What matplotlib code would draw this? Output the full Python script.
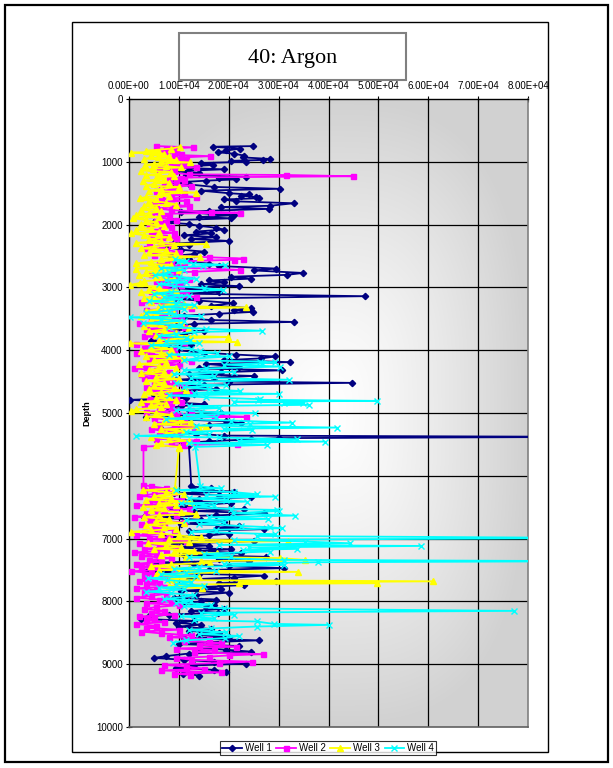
import numpy as np
import matplotlib
matplotlib.use("Agg")
import matplotlib.pyplot as plt
from matplotlib.patches import Rectangle

plt.rcParams["font.family"] = ["Liberation Sans", "DejaVu Sans"]

# ---------------------------------------------------------------- data
well1_depth = [
    750, 760, 790, 820, 850, 870, 900, 930, 955, 970, 985, 1000,
    1020, 1050, 1080, 1100, 1120, 1150, 1180, 1210, 1240, 1260, 1280, 1300,
    1330, 1360, 1400, 1430, 1460, 1500, 1520, 1540, 1560, 1580, 1600,
    1630, 1660, 1700, 1720, 1750, 1780, 1800, 1830, 1850, 1880, 1900, 1930, 1960, 1990,
    2020, 2050, 2080, 2110, 2140, 2170, 2200, 2230, 2260, 2300, 2330, 2360, 2400, 2430, 2470, 2500,
    2540, 2580, 2620, 2660, 2700, 2730, 2770, 2800, 2830, 2860, 2890, 2920, 2950, 2980,
    3010, 3040, 3070, 3100, 3140, 3180, 3210, 3250, 3290, 3330, 3360, 3390, 3420, 3450, 3480,
    3520, 3550, 3580, 3620, 3660, 3700, 3740, 3780, 3810, 3850, 3880, 3920, 3960, 4000,
    4040, 4070, 4100, 4130, 4160, 4190, 4220, 4260, 4290, 4320, 4350, 4380, 4410, 4440, 4470, 4500,
    4520, 4550, 4580, 4620, 4650, 4690, 4720, 4760, 4790, 4820, 4860, 4890, 4920, 4960, 5000,
    5030, 5060, 5100, 5130, 5160, 5190, 5220, 5260, 5300, 5330, 5360, 5380, 5400, 5420, 5450, 5480, 5510,
    6170, 6200, 6230, 6250, 6280, 6310, 6340, 6370, 6400, 6430, 6460, 6500,
    6530, 6560, 6600, 6630, 6660, 6700, 6730, 6760, 6800, 6830, 6850, 6880, 6920, 6950, 6980,
    7010, 7040, 7080, 7110, 7140, 7170, 7200, 7230, 7260, 7290, 7320, 7350, 7380, 7410, 7440, 7470, 7500,
    7530, 7560, 7590, 7620, 7650, 7680, 7710, 7740, 7770, 7800, 7830, 7860, 7900, 7940, 7970, 8000,
    8030, 8060, 8090, 8120, 8150, 8180, 8210, 8240, 8280, 8310, 8340, 8370, 8400, 8440, 8470, 8500,
    8530, 8560, 8590, 8620, 8650, 8680, 8710, 8740, 8770, 8800, 8830, 8870, 8900, 8930, 8960, 8990,
    9020, 9060, 9090, 9120, 9150, 9180,
]
well1_value = [
    24900, 16800, 22300, 19500, 17900, 21000, 23000, 22900, 28300, 26900, 20500, 23500,
    14500, 16800, 10500, 12000, 19000, 9000, 14000, 11500, 23500, 18000, 21500, 15500,
    9000, 12000, 17000, 30200, 14500, 20000, 24000, 22500, 25500, 26000, 19000,
    21500, 33000, 28300, 18500, 28000, 16000, 10500, 16500, 21000, 14000, 20500, 8500, 5000, 12000,
    14000, 17500, 19000, 13500, 16500, 11000, 17500, 12500, 20000, 9000, 12000, 7500, 10500, 15000, 13000, 8500,
    12000, 9500, 16000, 18000, 29500, 25000, 34900, 31700, 20500, 24500, 16000, 19000, 14500, 22000,
    8000, 15500, 18000, 11500, 47300, 9000, 14000, 20900, 16500, 24500, 21000, 24800, 18000, 11000, 8500,
    16500, 33100, 13000, 9500, 7000, 15000, 11000, 6000, 10500, 4500, 8000, 12500, 6500, 9500,
    15000, 21500, 29300, 26500, 19000, 32300, 15500, 22000, 14000, 30700, 18500, 12000, 25000, 17000, 9500, 20000,
    44700, 15000, 11000, 17500, 9000, 13000, 5000, 11500, 300, 7000, 15000, 10500, 8000, 12000, 18500,
    14500, 3500, 9000, 19500, 22500, 16000, 13000, 6500, 10000, 13500, 19000, 95000, 30000, 24500, 16000, 11000, 12000,
    12500, 16500, 13000, 21000, 9000, 18000, 24500, 14000, 11000, 20500, 15500, 8500,
    23000, 13000, 27000, 17500, 3000, 14500, 19000, 10500, 22000, 17600, 27000, 12000, 20000, 16000, 7000,
    12000, 25000, 9000, 16000, 7500, 20500, 14000, 22500, 11000, 27500, 18000, 24000, 5500, 13000, 20000, 31000, 16000,
    3500, 14000, 27000, 21000, 12000, 29500, 18000, 23000, 15000, 18500, 10500, 20000, 13500, 9000, 17500, 14500,
    11000, 17000, 15500, 19000, 12500, 17800, 8000, 4000, 2500, 13000, 9500, 14500, 10000, 16500, 12000, 18000,
    14000, 20000, 11000, 26000, 16000, 10000, 22000, 14000, 19500, 24500, 12000, 7500, 5000, 11000, 17000, 23500,
    13000, 9500, 17000, 19500, 10900, 14000,
]

well2_depth = [
    750, 770, 790, 810, 830, 850, 870, 890, 910, 940, 960, 990,
    1010, 1040, 1060, 1090, 1110, 1140, 1170, 1200, 1210, 1230, 1250, 1270, 1290,
    1320, 1350, 1380, 1410, 1440, 1470, 1500, 1530, 1560, 1590, 1620, 1650, 1680, 1710, 1740, 1770,
    1800, 1810, 1830, 1860, 1890, 1920, 1950, 1980, 2010, 2040, 2070, 2100, 2130, 2160, 2190,
    2220, 2250, 2280, 2310, 2340, 2370, 2400, 2440, 2480, 2520, 2540, 2560, 2590, 2620, 2650, 2680,
    2720, 2750, 2780, 2810, 2840, 2870, 2900, 2930, 2960, 3000, 3030, 3060, 3090, 3120, 3150, 3180,
    3210, 3240, 3270, 3300, 3330, 3360, 3390, 3420, 3450, 3480, 3510, 3540, 3570, 3600, 3630, 3660,
    3690, 3720, 3750, 3780, 3810, 3840, 3870, 3900, 3930, 3960, 3990, 4020, 4050, 4080, 4110, 4140,
    4170, 4200, 4230, 4260, 4290, 4320, 4350, 4380, 4410, 4440, 4470, 4500, 4530, 4560, 4590, 4620,
    4650, 4680, 4710, 4740, 4770, 4800, 4830, 4860, 4890, 4920, 4950, 4980, 5010, 5040, 5060, 5080,
    5110, 5140, 5170, 5200, 5230, 5260, 5290, 5320, 5350, 5380, 5410, 5440, 5470, 5490, 5510, 5535,
    6145, 6170, 6200, 6230, 6260, 6290, 6320, 6350, 6380, 6410, 6440, 6470, 6500, 6530, 6560, 6590,
    6620, 6650, 6680, 6710, 6740, 6770, 6800, 6830, 6860, 6890, 6920, 6950, 6980, 7010, 7040, 7070,
    7100, 7130, 7160, 7190, 7220, 7250, 7280, 7310, 7340, 7370, 7400, 7430, 7460, 7490, 7520, 7550,
    7580, 7610, 7640, 7670, 7700, 7730, 7760, 7790, 7820, 7850, 7880, 7910, 7940, 7970, 8000, 8030,
    8060, 8090, 8120, 8150, 8180, 8210, 8240, 8270, 8300, 8330, 8360, 8390, 8420, 8450, 8480, 8510,
    8540, 8570, 8600, 8630, 8660, 8690, 8720, 8750, 8780, 8810, 8840, 8860, 8880, 8900, 8930, 8960,
    8980, 9010, 9040, 9070, 9100, 9130, 9150, 9170,
]
well2_value = [
    5500, 12900, 7500, 9500, 6500, 7600, 10500, 9000, 16200, 8200, 11500, 10000,
    7000, 11000, 8500, 13500, 6000, 9000, 8500, 12000, 31400, 44900, 10500, 8000, 11000,
    9500, 7000, 12500, 6500, 9800, 5500, 11000, 8500, 13500, 6500, 11500, 5000, 9000, 12000, 5500, 8500,
    16500, 22300, 4500, 8000, 6000, 9500, 5500, 7500, 4000, 8500, 6500, 5000, 9000, 4500, 7000,
    9500, 6000, 4000, 8500, 6500, 3500, 7500, 10000, 5000, 16000, 22900, 21000, 8500, 6000, 11000, 9000,
    22300, 13000, 4500, 9500, 7000, 12000, 5500, 8000, 10500, 6500, 9000, 4500, 11500, 7500, 13500, 5000,
    8500, 2500, 10000, 6500, 12500, 3500, 9000, 7000, 5000, 10500, 4500, 8000, 2000, 6500, 11000, 3500,
    7500, 9500, 5000, 3000, 8000, 6000, 11000, 1500, 5500, 3000, 9000, 4500, 1500, 7000, 9500, 4000,
    12500, 6500, 10000, 3500, 1000, 5500, 8000, 2500, 6000, 3000, 9000, 5000, 7500, 11000, 3500, 8500,
    5000, 12000, 6500, 9500, 4000, 7500, 10500, 3000, 8500, 6000, 12500, 3500, 9500, 17000, 23500, 5000,
    8000, 11000, 6000, 9000, 13000, 4500, 7500, 10000, 6000, 9500, 5500, 13500, 8500, 21600, 11000, 2900,
    2900, 4500, 7500, 3000, 9000, 5000, 2000, 6500, 10500, 4000, 8000, 1500, 5500, 12000, 7000, 3500,
    9500, 1000, 6000, 4000, 11000, 2500, 7000, 5000, 9000, 3000, 6500, 1500, 8000, 4000, 11500, 2000,
    6000, 9500, 3000, 7500, 1000, 5500, 2500, 8500, 4000, 6500, 1500, 5000, 2500, 9000, 500, 4500,
    3000, 8000, 5000, 2000, 6000, 3500, 9500, 1500, 5500, 3000, 7500, 4500, 1500, 6000, 8500, 3500,
    10000, 5500, 3000, 7000, 4500, 9000, 2000, 5000, 3500, 7000, 1500, 5500, 3500, 10000, 2500, 6500,
    12500, 8000, 16000, 11000, 18500, 14000, 21500, 9500, 17000, 13000, 26900, 20000, 16000, 9500, 12500, 24600,
    18000, 7000, 11500, 15000, 6500, 18500, 9000, 12200,
]

well3_depth = [
    760, 790, 823, 840, 854, 870, 890, 910, 930, 950, 970, 990,
    1010, 1030, 1050, 1070, 1090, 1110, 1140, 1160, 1190, 1210, 1230, 1250, 1280, 1300,
    1330, 1350, 1380, 1400, 1430, 1460, 1490, 1510, 1540, 1560, 1580, 1600, 1620, 1650, 1680, 1700,
    1730, 1760, 1790, 1820, 1850, 1880, 1900, 1930, 1960, 1990, 2020, 2050, 2080, 2110, 2140, 2170,
    2200, 2230, 2260, 2290, 2310, 2330, 2350, 2380, 2400, 2430, 2460, 2490, 2510, 2540, 2560, 2590,
    2617, 2640, 2670, 2700, 2720, 2750, 2780, 2810, 2840, 2870, 2900, 2930, 2960, 2990, 3020, 3050,
    3080, 3110, 3140, 3170, 3200, 3230, 3260, 3290, 3320, 3340, 3370, 3400, 3430, 3460, 3490, 3520,
    3550, 3580, 3610, 3640, 3670, 3700, 3730, 3760, 3790, 3810, 3840, 3870, 3890, 3920, 3950, 3980,
    4010, 4040, 4070, 4100, 4130, 4160, 4190, 4220, 4250, 4280, 4310, 4340, 4370, 4400, 4430, 4460,
    4490, 4520, 4550, 4580, 4610, 4640, 4670, 4700, 4730, 4760, 4790, 4820, 4850, 4880, 4910, 4940,
    4970, 5000, 5030, 5060, 5090, 5120, 5150, 5180, 5210, 5240, 5260, 5290, 5320, 5350, 5380, 5410,
    5440, 5470, 5510, 5540, 5560,
    6200, 6230, 6260, 6290, 6320, 6350, 6380, 6410, 6440, 6470, 6490, 6520, 6550, 6580, 6610, 6630,
    6660, 6690, 6720, 6750, 6780, 6810, 6840, 6870, 6890, 6920, 6950, 6980, 7010, 7040, 7060, 7070,
    7100, 7130, 7160, 7190, 7210, 7230, 7260, 7290, 7310, 7340, 7360, 7390, 7410, 7440, 7470, 7500,
    7530, 7550, 7580, 7610, 7640, 7660, 7680, 7700, 7710, 7730, 7760, 7790,
]
well3_value = [
    10200, 8500, 3500, 6000, 500, 7000, 4500, 8000, 5900, 3000, 9500, 6500,
    12200, 5000, 3200, 7500, 10500, 4800, 2500, 8500, 6000, 3500, 9000, 5500, 7000, 2800,
    8000, 5000, 3500, 10000, 6500, 4000, 13500, 6000, 8000, 3500, 2200, 5500, 4000, 7500, 9500, 3000,
    5500, 2500, 6500, 4000, 1500, 6000, 900, 3500, 5500, 2500, 7000, 4500, 1500, 6000, 500, 3000,
    8000, 4000, 6500, 1500, 15500, 9000, 5000, 2500, 7500, 4000, 9500, 3000, 14200, 6500, 11000, 4500,
    1500, 8500, 5500, 1500, 10000, 3500, 7000, 2000, 5500, 9000, 3000, 2200, 200, 6000, 4000, 9500,
    2500, 7000, 5000, 3000, 8500, 4500, 11000, 6000, 23500, 7500, 3500, 9000, 5500, 2500, 8000, 4500,
    10500, 6500, 3000, 12000, 7000, 4000, 9500, 5500, 19900, 10500, 6000, 21600, 300, 7000, 4500, 8500,
    2500, 6500, 9000, 3500, 11000, 5000, 7500, 2000, 6000, 9500, 4000, 7000, 2500, 8500, 5500, 10000,
    3500, 7000, 5000, 9000, 4000, 11500, 6500, 3000, 8000, 5500, 9500, 2500, 7500, 4500, 6500, 1500,
    500, 5500, 8500, 3500, 10500, 7000, 12500, 5000, 15500, 14000, 6500, 11000, 7500, 9500, 4500, 8000,
    12000, 6500, 5500, 10000, 10000,
    9200, 2900, 7500, 11000, 5000, 8500, 3500, 12500, 6000, 9500, 2900, 7000, 4500, 10500, 13500, 6000,
    3000, 8000, 5500, 11000, 3500, 7000, 9500, 4500, 500, 6500, 10000, 14500, 8000, 31900, 12000, 3900,
    7500, 10500, 5000, 13000, 9000, 17600, 6500, 11500, 30200, 35300, 14500, 16200, 8500, 4500, 12000, 6000,
    33900, 10000, 5500, 14000, 8000, 9200, 61000, 22000, 49700, 11500, 8000, 14600,
]

well4_depth = [
    2550, 2580, 2600, 2620, 2640, 2660, 2690, 2720, 2750, 2780, 2800, 2830, 2860, 2890, 2920, 2950,
    2980, 3010, 3040, 3070, 3100, 3130, 3160, 3190, 3220, 3250, 3280, 3310, 3340, 3370, 3400, 3430,
    3460, 3476, 3500, 3530, 3570, 3600, 3630, 3660, 3690, 3710, 3740, 3770, 3800, 3836, 3860, 3890,
    3920, 3950, 3980, 4020, 4040, 4070, 4100, 4130, 4160, 4180, 4195, 4210, 4230, 4260, 4290, 4320,
    4350, 4380, 4410, 4440, 4470, 4500, 4530, 4560, 4590, 4620, 4650, 4680, 4695, 4720, 4750, 4780,
    4790, 4807, 4820, 4833, 4845, 4870, 4890, 4920, 4950, 4980, 5000, 5030, 5060, 5090, 5120, 5153,
    5170, 5200, 5232, 5250, 5270, 5300, 5330, 5365, 5390, 5418, 5440, 5455, 5480, 5508, 5540,
    6170, 6200, 6230, 6260, 6293, 6310, 6330, 6360, 6390, 6410, 6440, 6470, 6500, 6530, 6543, 6560,
    6596, 6633, 6660, 6686, 6710, 6740, 6770, 6800, 6819, 6835, 6860, 6890, 6930, 6958, 6990, 7020,
    7047, 7074, 7100, 7117, 7140, 7164, 7180, 7206, 7240, 7270, 7300, 7339, 7360, 7376, 7400, 7419,
    7450, 7480, 7510, 7540, 7570, 7600, 7630, 7660, 7690, 7720, 7750, 7780, 7810, 7843, 7870, 7900,
    7933, 7960, 7990, 8020, 8050, 8080, 8110, 8151, 8180, 8210, 8240, 8270, 8300, 8320, 8358, 8374,
    8400, 8430, 8460, 8490, 8520, 8550, 8585, 8620, 8655,
]
well4_value = [
    9200, 11500, 9900, 12900, 19200, 14900, 6500, 11000, 8000, 7200, 5200, 10000, 13500, 7500, 11500, 6000,
    9000, 15000, 18900, 8500, 5000, 12000, 7000, 10500, 4000, 9500, 13000, 6500, 11000, 8000, 3500, 9000,
    14500, 200, 6500, 11000, 2900, 10500, 8000, 15500, 26600, 13000, 9500, 6000, 11500, 12200, 7500, 14000,
    4500, 10000, 12500, 14200, 17600, 8000, 20000, 13500, 11000, 26300, 29200, 26600, 19000, 30300, 15500, 11000,
    21000, 9000, 17000, 12500, 32100, 14000, 9500, 19500, 11000, 16000, 22200, 13000, 30000, 8000, 15500, 26300,
    25900, 49700, 21000, 34800, 31000, 36100, 12000, 18000, 9500, 14500, 25200, 11000, 17500, 7500, 20500, 32600,
    24200, 13500, 41700, 19000, 24600, 11500, 16000, 1500, 18000, 33600, 22000, 39300, 12000, 27600, 13300,
    14300, 18500, 9500, 21000, 25600, 15500, 29300, 12000, 19500, 23600, 10500, 17000, 13000, 20500, 29600, 30100,
    20900, 33300, 16000, 27900, 11500, 19000, 14000, 22500, 28300, 30600, 17500, 12500, 29300, 25600, 95000, 21000,
    35300, 44300, 18000, 58500, 24000, 33600, 22900, 28300, 15000, 20500, 12000, 31000, 95000, 37900, 19000, 31000,
    14000, 9000, 17500, 11500, 6500, 13500, 3900, 7550, 12500, 9500, 15000, 6000, 11000, 3500, 8500, 13000,
    10900, 7000, 12500, 9500, 16500, 11000, 19000, 77100, 14500, 21000, 10500, 17000, 13000, 25600, 29000, 40100,
    25600, 16500, 12000, 19500, 14000, 22000, 19200, 11500, 8900,
]

series_names = ["Well 1", "Well 2", "Well 3", "Well 4"]
x_ticks = [0, 10000, 20000, 30000, 40000, 50000, 60000, 70000, 80000]
y_ticks = [0, 1000, 2000, 3000, 4000, 5000, 6000, 7000, 8000, 9000, 10000]

# ---------------------------------------------------------------- figure
W, H = 613, 768
fig = plt.figure(figsize=(W / 100, H / 100), dpi=100)
fig.patch.set_facecolor("white")


def fx(px):
    return px / W


def fy(py):
    return 1 - py / H


# page frame and chart frame
fig.add_artist(Rectangle((fx(5), fy(762)), fx(603), 757 / H, transform=fig.transFigure,
                         fill=False, edgecolor="black", linewidth=1.6, zorder=0))
fig.add_artist(Rectangle((fx(72), fy(752)), fx(476), 730 / H, transform=fig.transFigure,
                         fill=False, edgecolor="black", linewidth=1.0, zorder=0))

ax = fig.add_axes([fx(129), fy(727), fx(399), 628 / H])
ax.set_xlim(0, 80000)
ax.set_ylim(10000, 0)

# shaded plot-area background (light centre fading to grey edges)
gx = np.linspace(-1, 1, 400)
gy = np.linspace(-1, 1, 600)
GX, GY = np.meshgrid(gx, gy)
r = (np.abs(GX) ** 3 + np.abs(GY) ** 3) ** (1 / 3)
r = np.clip(r, 0, 1)
shade = 1.0 - 0.18 * r ** 1.3
ax.imshow(np.dstack([shade] * 3), extent=(0, 80000, 10000, 0), aspect="auto",
          zorder=0, interpolation="bilinear")

# grid
for xv in x_ticks[1:-1]:
    ax.axvline(xv, color="black", linewidth=0.9, zorder=1)
for yv in y_ticks[1:-1]:
    ax.axhline(yv, color="black", linewidth=0.9, zorder=1)

styles = [
    dict(color="#000080", marker="D", markersize=3.2),
    dict(color="#FF00FF", marker="s", markersize=3.6),
    dict(color="#FFFF00", marker="^", markersize=4.2),
    dict(color="#00FFFF", marker="x", markersize=4.0, markeredgewidth=1.0),
]
data = [
    (well1_depth, well1_value),
    (well2_depth, well2_value),
    (well3_depth, well3_value),
    (well4_depth, well4_value),
]
handles = []
for i, ((dep, val), st, name) in enumerate(zip(data, styles, series_names)):
    line, = ax.plot(val, dep, linewidth=1.3, label=name, zorder=3 + i, **st)
    handles.append(line)

# axes styling
ax.xaxis.tick_top()
ax.set_xticks(x_ticks)
ax.set_xticklabels(["%.2E" % v for v in x_ticks])
ax.set_yticks(y_ticks)
ax.set_yticklabels([str(v) for v in y_ticks])
ax.tick_params(axis="both", direction="inout", length=5, width=0.8, labelsize=7,
               colors="black", pad=2)
ax.tick_params(axis="x", pad=3)
for side in ["left", "top"]:
    ax.spines[side].set_color("black")
    ax.spines[side].set_linewidth(1.0)
ax.spines["right"].set_color("#808080")
ax.spines["right"].set_linewidth(1.2)
ax.spines["bottom"].set_color("#606060")
ax.spines["bottom"].set_linewidth(1.2)
ax.set_ylabel("Depth", fontsize=6.5, fontweight="bold", labelpad=3)

# title box
fig.add_artist(Rectangle((fx(179), fy(80)), fx(227), 47 / H, transform=fig.transFigure,
                         facecolor="white", edgecolor="#808080", linewidth=1.5, zorder=5))
fig.text(fx(292.5), fy(58), "40: Argon", ha="center", va="center", fontsize=16,
         family=["Liberation Serif", "DejaVu Serif"], zorder=6)

# legend
leg = fig.legend(handles=handles, loc="center", bbox_to_anchor=(fx(328), fy(748)),
                 ncol=4, fontsize=7, frameon=True, fancybox=False, shadow=False,
                 handlelength=2.0, handletextpad=0.3, columnspacing=0.5,
                 borderpad=0.25, borderaxespad=0)
leg.get_frame().set_edgecolor("black")
leg.get_frame().set_linewidth(0.8)

fig.savefig("out.png", dpi=100)
